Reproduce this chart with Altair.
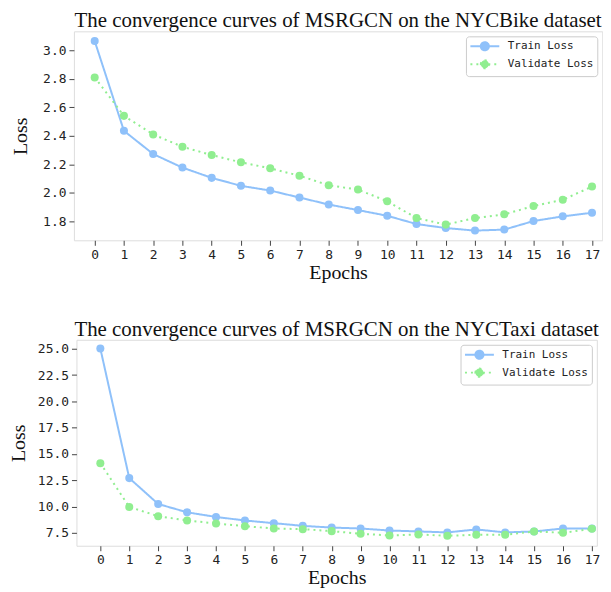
import altair as alt
import pandas as pd

epochs = list(range(18))
series_names = ["Train Loss", "Validate Loss"]

bike_train = [3.065, 2.435, 2.272, 2.177, 2.105, 2.049, 2.016, 1.967, 1.918, 1.879,
              1.839, 1.781, 1.753, 1.735, 1.742, 1.802, 1.835, 1.860]
bike_valid = [2.810, 2.540, 2.410, 2.323, 2.265, 2.214, 2.172, 2.120, 2.053, 2.023,
              1.941, 1.823, 1.777, 1.823, 1.849, 1.907, 1.951, 2.044]

taxi_train = [25.02, 12.70, 10.24, 9.45, 9.01, 8.67, 8.42, 8.16, 8.00, 7.91,
              7.72, 7.63, 7.54, 7.82, 7.54, 7.63, 7.91, 7.91]
taxi_valid = [14.12, 9.96, 9.08, 8.67, 8.39, 8.13, 7.91, 7.85, 7.66, 7.41,
              7.25, 7.34, 7.22, 7.31, 7.31, 7.63, 7.50, 7.88]

bike_ticks = [1.8, 2.0, 2.2, 2.4, 2.6, 2.8, 3.0]
taxi_ticks = [7.5, 10.0, 12.5, 15.0, 17.5, 20.0, 22.5, 25.0]

TRAIN_C = "#8fc1fa"
VALID_C = "#90ee90"
MONO = "DejaVu Sans Mono"
SERIF = "Liberation Serif"

LEG_PATH = ("M-2.5,0L2.5,0M-0.7,0A0.7,0.7,0,1,1,0.7,0A0.7,0.7,0,1,1,-0.7,0Z")


def make_df(tr, va):
    rows = []
    for e, v in zip(epochs, tr):
        rows.append({"epoch": e, "loss": v, "series": series_names[0]})
    for e, v in zip(epochs, va):
        rows.append({"epoch": e, "loss": v, "series": series_names[1]})
    return pd.DataFrame(rows)


def cscale():
    return alt.Scale(domain=series_names, range=[TRAIN_C, VALID_C])


def panel(tr, va, title, ydom, yticks, xdom, w, h, title_x):
    df = make_df(tr, va)
    legend = alt.Legend(orient="top-right", offset=5, title=None,
                        symbolType=LEG_PATH, symbolSize=135, symbolOffset=9,
                        symbolStrokeWidth=2, labelFont=MONO, labelFontSize=11,
                        labelColor="#222", labelOffset=16, rowPadding=0,
                        strokeColor="#cccccc", fillColor="white",
                        cornerRadius=3, padding=3)
    dscale = alt.Scale(domain=series_names, range=[[1, 0], [2, 4]])
    x = alt.X("epoch:Q", scale=alt.Scale(domain=xdom, nice=False, zero=False),
              axis=alt.Axis(values=epochs, format="d", title="Epochs", grid=False,
                            labelFont=MONO, labelFontSize=13, labelColor="#222",
                            tickColor="#444", tickSize=5, domain=False,
                            titleFont=SERIF, titleFontSize=20, titleFontWeight="normal",
                            titleColor="#111", titlePadding=1, labelPadding=3))
    y = alt.Y("loss:Q", scale=alt.Scale(domain=ydom, nice=False, zero=False),
              axis=alt.Axis(values=yticks, format=".1f", title="Loss", grid=False,
                            labelFont=MONO, labelFontSize=13, labelColor="#222",
                            tickColor="#444", tickSize=5, domain=False,
                            titleFont=SERIF, titleFontSize=20, titleFontWeight="normal",
                            titleColor="#111", titleX=title_x, titleBaseline="middle",
                            labelPadding=3))
    base = alt.Chart(df)
    lines = base.mark_line(strokeWidth=2).encode(
        x=x, y=y,
        stroke=alt.Stroke("series:N", scale=cscale()),
        strokeDash=alt.StrokeDash("series:N", scale=dscale),
    )
    pts = base.mark_point(filled=True, opacity=1, size=65, strokeWidth=0, shape="circle").encode(
        x=x, y=y,
        fill=alt.Fill("series:N", scale=cscale(), legend=legend),
        stroke=alt.Stroke("series:N", scale=cscale(), legend=legend),
        strokeDash=alt.StrokeDash("series:N", scale=dscale, legend=legend),
    )
    return alt.layer(lines, pts).properties(
        width=w, height=h,
        title=alt.TitleParams(title, font=SERIF, fontSize=21, fontWeight="normal",
                              color="#111", offset=0),
    )


top = panel(bike_train, bike_valid, "The convergence curves of MSRGCN on the NYCBike dataset",
            [1.667, 3.133], bike_ticks, [-0.71, 17.35], 531, 210, -54)
bottom = panel(taxi_train, taxi_valid, "The convergence curves of MSRGCN on the NYCTaxi dataset",
               [6.27, 25.85], taxi_ticks, [-0.826, 17.17], 523, 207, -58)

chart = alt.vconcat(top, bottom, spacing=35, center=True).resolve_scale(
    fill="independent", stroke="independent", strokeDash="independent"
).resolve_legend(
    fill="independent", stroke="independent", strokeDash="independent"
).properties(
    padding={"left": 0, "top": 0, "right": 0, "bottom": 0}
).configure_view(stroke="#444444", strokeWidth=1.5).configure(background="white")

chart.save("out.html", embed_options={"renderer": "svg", "actions": False})
